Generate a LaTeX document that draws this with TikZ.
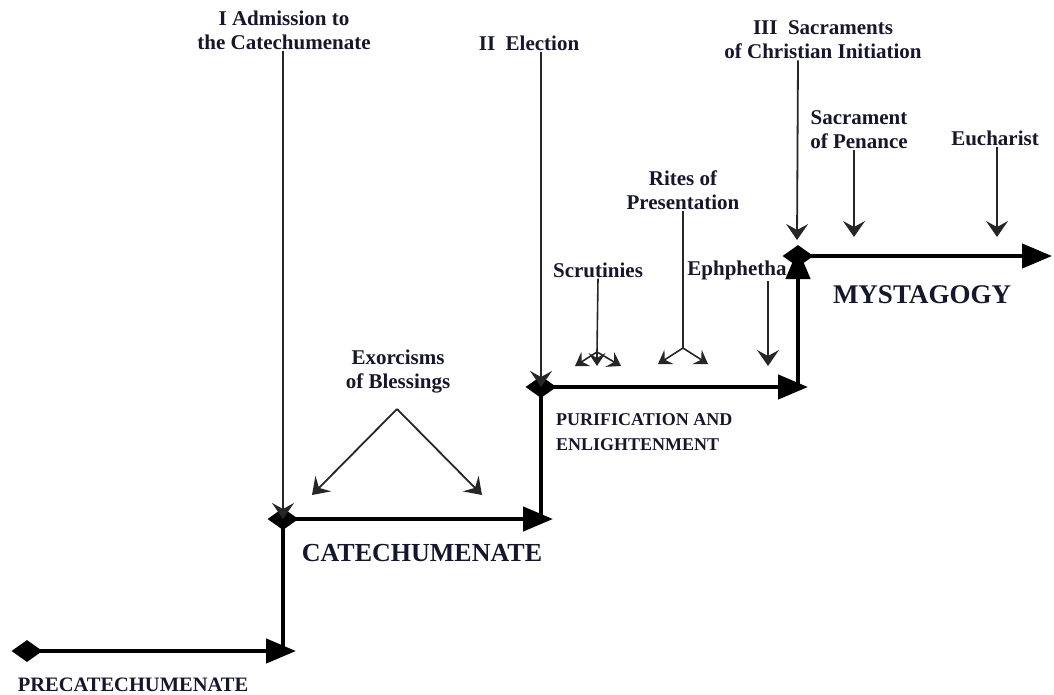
\documentclass[tikz,border=0pt]{standalone}
\usepackage{fontspec}
\setmainfont{Liberation Serif}
\usetikzlibrary{positioning,arrows.meta,shapes.geometric}
\definecolor{ink}{HTML}{16162c}

\begin{document}
\begin{tikzpicture}[x=1pt,y=-1pt,
  stage/.style={font=\fontsize{26}{30}\selectfont\bfseries, text=ink, inner sep=0pt},
  rite/.style={font=\fontsize{21}{24}\selectfont\bfseries, text=ink, align=center, inner sep=1pt},
  junction/.style={diamond, fill=black, inner sep=0pt, minimum width=31pt, minimum height=22pt},
  thickline/.style={line width=4.5pt, black},
  thickarrow/.style={thickline, -{Triangle[length=30pt,width=24pt]}},
  thinarrow/.style={line width=1.8pt, black!85, -{Stealth[length=16pt,width=22pt,inset=6pt]}},
  smallarrow/.style={line width=1.6pt, black!85, -{Stealth[length=13pt,width=17pt,inset=5pt]}}
]
  \useasboundingbox (0,0) rectangle (1054,694);

  % stage junctions, bottom to top
  \node[junction] (d0) at (27,651) {};
  \node[junction] (d1) at (283,519) {};
  \node[junction] (d2) at (541,387) {};
  \node[junction] (d3) at (798,256) {};

  % end points of the stage arrows
  \coordinate (e0) at (296,651);
  \coordinate (e1) at (553,519);
  \coordinate (e2) at (808,387);
  \coordinate (e3) at (1052,256);

  % the staircase
  \draw[thickarrow] (d0.center) -- (e0);
  \draw[thickline] (d1.center |- e0) -- (d1.center);
  \draw[thickarrow] (d1.center) -- (e1);
  \draw[thickline] (d2.center |- e1) -- (d2.center);
  \draw[thickarrow] (d2.center) -- (e2);
  \draw[thickarrow] (d3.center |- e2) -- (798,249);
  \draw[thickarrow] (d3.center) -- (e3);

  % stage names
  \node[font=\fontsize{20.5}{24}\selectfont\bfseries, text=ink, inner sep=0pt] (pre) at (133,685) {PRECATECHUMENATE};
  \node[stage] (cat) at (422,553) {CATECHUMENATE};
  \node[font=\fontsize{18}{25}\selectfont\bfseries, text=ink, align=left, inner sep=0pt, anchor=west] (pur) at (556,432) {PURIFICATION AND\\ENLIGHTENMENT};
  \node[stage, font=\fontsize{27}{30}\selectfont\bfseries] (mys) at (922,295) {MYSTAGOGY};

  % rites
  \node[rite] (adm) at (284,30) {I Admission to\\the Catechumenate};
  \node[rite] (elec) at (529,43) {II\enspace Election};
  \node[rite] (sac) at (823,40) {III\enspace Sacraments\\of Christian Initiation};
  \node[rite] (pen) at (859,130) {Sacrament\\of Penance};
  \node[rite] (euc) at (995,138) {Eucharist};
  \node[rite] (rites) at (683,190) {Rites of\\Presentation};
  \node[rite] (scr) at (598,270) {Scrutinies};
  \node[rite] (eph) at (737,270) {Ephphetha};
  \node[rite] (exo) at (398,372) {Exorcisms\\of Blessings};

  % rite markers
  \draw[thinarrow] (adm.south -| d1) -- (d1.center);
  \draw[thinarrow] (elec.south -| d2) -- (d2.center);
  \draw[thinarrow] (sac.south -| d3) -- (797,240);
  \draw[thinarrow] (pen.south -| 854,0) -- (854,237);
  \draw[thinarrow] (euc.south -| 997,0) -- (997,237);
  \draw[thinarrow] (eph.south -| 768,0) -- (768,366);

  \coordinate (scrfork) at (597,352);
  \draw[line width=1.6pt, black!85] (scr.south) -- (scrfork);
  \foreach \tx in {575,597,621}
    \draw[smallarrow] (scrfork) -- (\tx,366);

  \coordinate (ritfork) at (683,348);
  \draw[line width=1.6pt, black!85] (rites.south) -- (ritfork);
  \foreach \tx in {658,708}
    \draw[smallarrow] (ritfork) -- (\tx,364);

  \coordinate (exofork) at (397,409);
  \draw[thinarrow] (exofork) -- (312,495);
  \draw[thinarrow] (exofork) -- (482,495);
\end{tikzpicture}
\end{document}
